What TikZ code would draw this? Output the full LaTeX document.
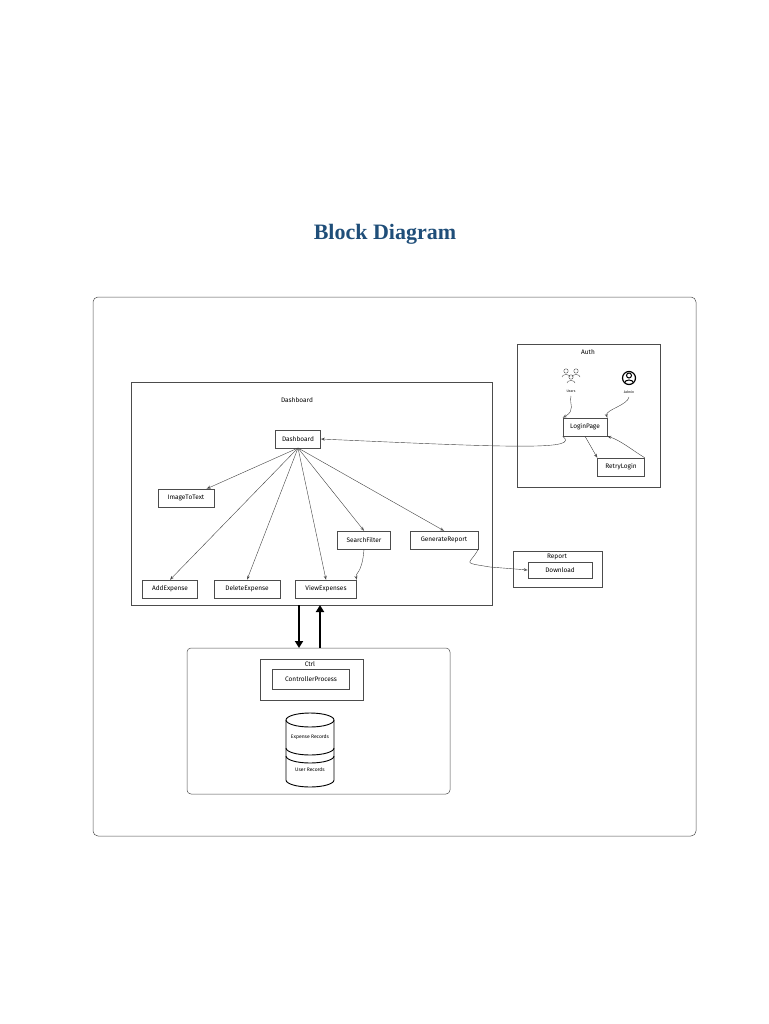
\documentclass[tikz,border=0pt]{standalone}
\usepackage{fontspec}
\setmainfont{Liberation Serif}
\newfontfamily\sk{Fira Sans}
\usetikzlibrary{shapes.geometric,arrows.meta}
\definecolor{ttl}{HTML}{1F4E79}
\begin{document}
\begin{tikzpicture}[x=1pt,y=-1pt,
  box/.style={draw=black!70,line width=0.5pt,minimum height=18pt,inner sep=2pt,font=\sk\fontsize{6.5}{7}\selectfont},
  frame/.style={draw=black!70,line width=0.5pt},
  lbl/.style={font=\sk\fontsize{6.5}{7}\selectfont},
  ar/.style={->,>={Stealth[length=4pt,width=3pt,open]},draw=black!75,line width=0.4pt}]
\useasboundingbox (0,0) rectangle (768,1024);
\node[font=\bfseries\fontsize{22}{24}\selectfont,text=ttl] (title) at (385,234) {Block Diagram};
\draw[frame,rounded corners=5pt] (93,297) rectangle (696,836);
% Dashboard frame
\draw[frame] (131,382) rectangle (492,605);
\node[lbl] (dl) at (297,400) {Dashboard};
\node[box,minimum width=45pt] (dash) at (298,439) {Dashboard};
\node[box,minimum width=56pt] (img) at (186,498) {ImageToText};
\node[box,minimum width=55pt] (add) at (170,589) {AddExpense};
\node[box,minimum width=66pt] (del) at (247,589) {DeleteExpense};
\node[box,minimum width=61pt] (view) at (326,589) {ViewExpenses};
\node[box,minimum width=53pt] (sf) at (364,540) {SearchFilter};
\node[box,minimum width=68pt] (gr) at (444,540) {GenerateReport};
\coordinate (hub) at (298,448);
\draw[ar] (hub) -- (img);
\draw[ar] (hub) -- (add.north);
\draw[ar] (hub) -- (del.north);
\draw[ar] (hub) -- (view.north);
\draw[ar] (hub) -- (sf.north);
\draw[ar] (hub) -- (gr.north);
\draw[ar] (sf.south) .. controls (362,575) and (355,572) .. (view.north east);
% Auth
\draw[frame] (517,344) rectangle (660,487);
\node[lbl] (al) at (588,352) {Auth};
\node[box,minimum width=44pt] (login) at (585,427) {LoginPage};
\node[box,minimum width=47pt] (retry) at (621,467) {RetryLogin};
% users icon
\begin{scope}[draw=black!70,line width=0.4pt]
\draw (566,371) circle (2.2);
\draw (576,371) circle (2.2);
\draw (571,377) circle (2.2);
\draw (562,377) arc (180:360:4 and 2.5);
\draw (572,377) arc (180:360:4 and 2.5);
\draw (567,383) arc (180:360:4 and 2.5);
\end{scope}
\node[font=\sk\fontsize{3.5}{4}\selectfont] (ul) at (571,391) {Users};
\node[draw,circle,line width=1.2pt,minimum size=13pt,inner sep=0pt] (admin) at (629,378) {};
\draw[line width=1pt] (629,375.5) circle (2.5);
\draw[line width=1pt] (624.5,383) arc (180:360:4.5 and 3);
\node[font=\sk\fontsize{3.5}{4}\selectfont] (adl) at (629,392) {Admin};
\draw[ar] (ul.south) .. controls (569,405) and (576,410) .. (login.north west);
\draw[ar] (adl.south) .. controls (628,405) and (605,410) .. (login.north east);
\draw[ar] (login.south) -- (retry.north west);
\draw[ar] (retry.north east) .. controls (632,450) and (620,440) .. (login.south east);
\draw[ar] (login.south west) .. controls (580,450) and (520,448) .. (dash.east);
% Report
\draw[frame] (513,551) rectangle (602,587);
\node[lbl] (rl) at (557,557) {Report};
\node[box,minimum width=64pt,minimum height=16pt] (dl2) at (560,570) {Download};
\draw[ar] (gr.south east) .. controls (470,565) and (460,562) .. (490,567) -- (dl2.west);
% Ctrl section
\draw[frame,rounded corners=4pt] (187,648) rectangle (450,794);
\draw[frame] (260,659) rectangle (363,700);
\node[lbl] (cl) at (310,664) {Ctrl};
\node[box,minimum width=77pt,minimum height=20pt] (cp) at (311,679) {ControllerProcess};
% database
\begin{scope}[line width=0.9pt]
\draw (310,720) ellipse (24 and 7);
\draw (286,720) -- (286,780) arc (180:0:24 and 7) -- (334,720);
\draw (286,748) arc (180:0:24 and 7);
\draw (286,756) arc (180:0:24 and 7);
\end{scope}
\node[font=\sk\fontsize{5}{6}\selectfont] (er) at (310,737) {Expense Records};
\node[font=\sk\fontsize{5}{6}\selectfont] (ur) at (310,770) {User Records};
% thick arrows
\coordinate (a1) at (299,605); \coordinate (a2) at (299,648);
\coordinate (b1) at (320,648); \coordinate (b2) at (320,605);
\draw[-{Triangle[length=7pt,width=8pt]},line width=2.2pt] (a1) -- (a2);
\draw[-{Triangle[length=7pt,width=8pt]},line width=2.2pt] (b1) -- (b2);
\end{tikzpicture}
\end{document}
